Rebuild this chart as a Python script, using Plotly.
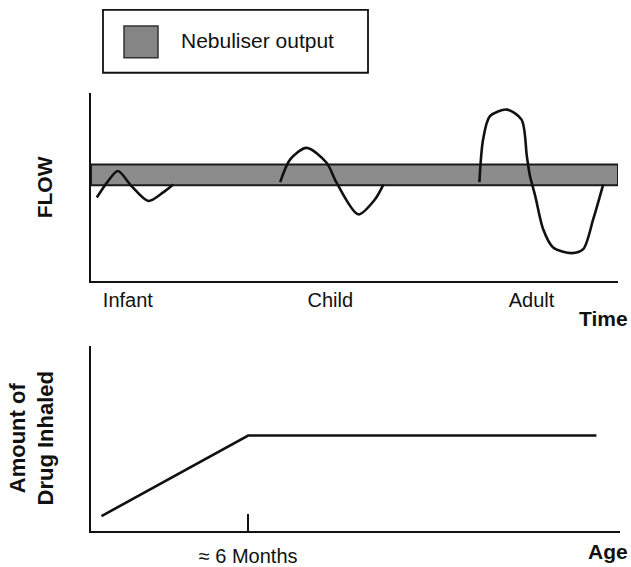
import plotly.graph_objects as go

W, H = 631, 567

# ---------------- data ----------------
# Top panel: flow vs time (arbitrary units, time 0-100, flow 0-100)
infant_t = [1.1, 3.2, 5.1, 7.7, 10.9, 13.7, 15.6]
infant_flow = [44.3, 52.9, 58.4, 50.4, 42.5, 47.1, 51.3]

child_t = [35.9, 37.8, 40.9, 44.7, 46.6, 50.7, 53.9, 55.5]
child_flow = [52.5, 64.6, 70.7, 62.8, 52.2, 35.4, 43.4, 51.3]

adult_t = [73.7, 74.4, 75.7, 78.9, 81.7, 82.7, 83.3, 84.3, 85.8, 87.7, 91.2, 93.4, 95.3, 97.2]
adult_flow = [52.5, 75.1, 87.5, 91.0, 85.7, 66.3, 55.7, 45.1, 27.5, 17.8, 14.8, 16.9, 32.8, 51.3]

band_t = [0, 100]
band_low, band_high = 50.8, 61.9

age_groups = ["Infant", "Child", "Adult"]
age_group_t = [7.0, 45.4, 83.6]

# Bottom panel: amount of drug inhaled vs age
age = [0.4, 6.0, 19.3]
amount = [8.1, 51.6, 51.6]
age_tick = [6]
age_tick_label = ["\u2248 6 Months"]

FONT = "Arial, Liberation Sans, Helvetica, sans-serif"
INK = "#111111"


def px_x(p):
    return p / W


def px_y(p):
    return 1 - p / H


fig = go.Figure()

# Nebuliser output band
fig.add_trace(go.Scatter(
    x=[band_t[0], band_t[1], band_t[1], band_t[0], band_t[0]],
    y=[band_low, band_low, band_high, band_high, band_low],
    fill="toself", fillcolor="#8c8c8c", mode="lines",
    line=dict(color="#1a1a1a", width=2), hoverinfo="skip",
    showlegend=False, xaxis="x", yaxis="y"))

for t, f in [(infant_t, infant_flow), (child_t, child_flow), (adult_t, adult_flow)]:
    fig.add_trace(go.Scatter(
        x=t, y=f, mode="lines", line=dict(color=INK, width=2.6, shape="spline", smoothing=0.8),
        showlegend=False, xaxis="x", yaxis="y"))

fig.add_trace(go.Scatter(
    x=age, y=amount, mode="lines", line=dict(color=INK, width=2.6),
    showlegend=False, xaxis="x2", yaxis="y2"))

axis_common = dict(showgrid=False, zeroline=False, showline=True,
                   linecolor=INK, linewidth=1.8, fixedrange=True)

fig.update_layout(
    width=W, height=H, margin=dict(l=0, r=0, t=0, b=0),
    paper_bgcolor="white", plot_bgcolor="white",
    font=dict(family=FONT, color=INK),
    xaxis=dict(domain=[px_x(91), px_x(618)], range=[0, 100], anchor="y",
               tickmode="array", tickvals=age_group_t, ticktext=age_groups,
               ticks="", tickfont=dict(size=20, family=FONT, color=INK), **axis_common),
    yaxis=dict(domain=[px_y(282), px_y(93)], range=[0, 100], anchor="x",
               showticklabels=False, ticks="", **axis_common),
    xaxis2=dict(domain=[px_x(91), px_x(620)], range=[0, 20.2], anchor="y2",
                tickmode="array", tickvals=age_tick, ticktext=age_tick_label,
                ticks="inside", ticklen=17, tickwidth=1.5, tickcolor=INK,
                ticklabelstandoff=6,
                tickfont=dict(size=20, family=FONT, color=INK), **axis_common),
    yaxis2=dict(domain=[px_y(533), px_y(347)], range=[0, 100], anchor="x2",
                showticklabels=False, ticks="", **axis_common),
)

# Legend box (custom)
fig.add_shape(type="rect", xref="paper", yref="paper",
              x0=px_x(103), x1=px_x(368), y0=px_y(73), y1=px_y(10),
              line=dict(color=INK, width=1.8), fillcolor="white")
fig.add_shape(type="rect", xref="paper", yref="paper",
              x0=px_x(124), x1=px_x(158), y0=px_y(58), y1=px_y(26),
              line=dict(color="#333333", width=1.5), fillcolor="#858585")
fig.add_annotation(text="Nebuliser output", xref="paper", yref="paper",
                   x=px_x(179), y=px_y(41), xanchor="left", yanchor="middle",
                   showarrow=False, font=dict(size=21, family=FONT, color=INK))

# Axis titles
fig.add_annotation(text="<b>FLOW</b>", xref="paper", yref="paper",
                   x=px_x(44), y=px_y(188), textangle=-90, showarrow=False,
                   xanchor="center", yanchor="middle",
                   font=dict(size=21, family=FONT, color=INK))
fig.add_annotation(text="<b>Time</b>", xref="paper", yref="paper",
                   x=px_x(603), y=px_y(320), showarrow=False,
                   xanchor="center", yanchor="middle",
                   font=dict(size=21, family=FONT, color=INK))
fig.add_annotation(text="<b>Amount of<br>Drug Inhaled</b>", xref="paper", yref="paper",
                   x=px_x(32), y=px_y(440), textangle=-90, showarrow=False,
                   xanchor="center", yanchor="middle",
                   font=dict(size=22, family=FONT, color=INK))
fig.add_annotation(text="<b>Age</b>", xref="paper", yref="paper",
                   x=px_x(608), y=px_y(553), showarrow=False,
                   xanchor="center", yanchor="middle",
                   font=dict(size=21, family=FONT, color=INK))

fig.write_html("out.html", config={"displayModeBar": False},
               post_script="document.body.style.margin='0';document.body.style.overflow='hidden';")
